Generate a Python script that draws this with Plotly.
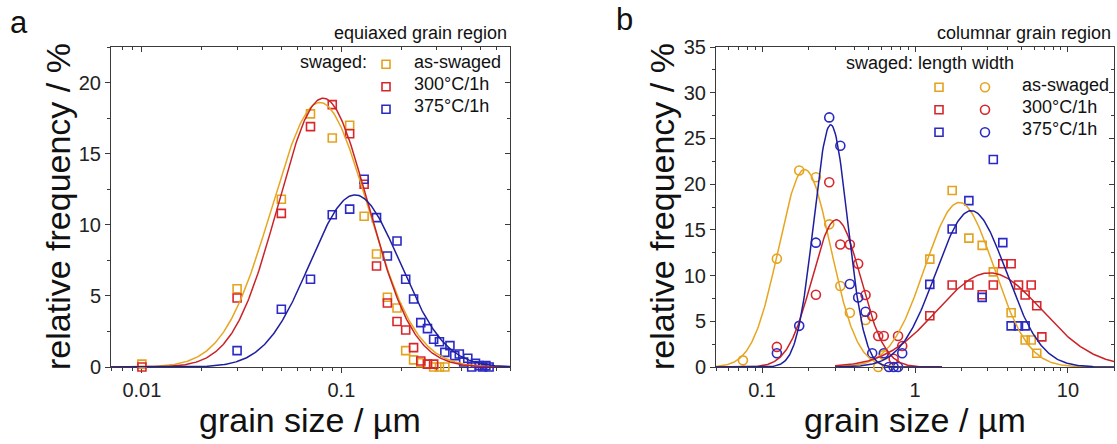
import numpy as np
import plotly.graph_objects as go

W, H = 1117, 444
FONT = "Liberation Sans, Arial, sans-serif"

# ---------------- data: panel a (equiaxed grain region) ----------------
a_as_x = [0.01, 0.03, 0.05, 0.07, 0.09, 0.11, 0.13, 0.15, 0.17, 0.19, 0.21, 0.23, 0.25, 0.27, 0.29, 0.31, 0.33]
a_as_y = [0.2, 5.5, 11.8, 17.8, 16.1, 17.0, 10.6, 7.95, 4.9, 4.15, 1.15, 0.5, 0.3, 0.2, 0.0, 0.0, 0.0]
a_300_x = [0.01, 0.03, 0.05, 0.07, 0.09, 0.11, 0.13, 0.15, 0.17, 0.19, 0.21, 0.23, 0.25, 0.27, 0.29]
a_300_y = [0.0, 4.85, 10.8, 16.9, 18.45, 16.4, 12.85, 7.1, 4.5, 3.2, 2.6, 1.36, 0.42, 0.2, 0.2]
a_375_x = [0.03, 0.05, 0.07, 0.09, 0.11, 0.13, 0.15, 0.17, 0.19, 0.21, 0.23, 0.25, 0.27, 0.29,
           0.31, 0.33, 0.35, 0.37, 0.39, 0.41, 0.43, 0.45, 0.47, 0.49, 0.51, 0.53, 0.55]
a_375_y = [1.15, 4.06, 6.17, 10.7, 11.1, 13.2, 10.5, 7.8, 8.86, 6.17, 4.78, 3.12, 2.7, 1.95,
           1.78, 1.03, 1.5, 0.8, 0.91, 0.35, 0.61, 0.0, 0.26, 0.1, 0.0, 0.1, 0.0]
# fit parameters (log-normal: centre, log10 width, amplitude)
a_fit_centre = [0.078, 0.081, 0.117]
a_fit_width = [0.24, 0.225, 0.225]
a_fit_amp = [18.6, 18.9, 12.1]

# ---------------- data: panel b (columnar grain region) ----------------
# width (circles)
b_w_as_x = [0.075, 0.125, 0.175, 0.225, 0.275, 0.325, 0.375, 0.475, 0.575, 0.625]
b_w_as_y = [0.73, 11.85, 21.5, 20.75, 15.6, 8.86, 5.94, 5.14, 0.0, 1.3]
b_w_300_x = [0.125, 0.225, 0.275, 0.325, 0.375, 0.425, 0.475, 0.525, 0.575, 0.625, 0.725, 0.775, 0.825]
b_w_300_y = [2.2, 7.9, 20.2, 13.4, 13.4, 11.3, 7.88, 5.58, 3.39, 3.39, 0.9, 3.39, 2.3]
b_w_375_x = [0.125, 0.175, 0.225, 0.275, 0.325, 0.375, 0.425, 0.475, 0.525, 0.625, 0.675, 0.725, 0.775, 0.825]
b_w_375_y = [1.5, 4.5, 13.6, 27.3, 24.2, 9.08, 7.6, 6.05, 1.5, 1.5, 0.0, 0.0, 0.0, 1.5]
# length (squares)
b_l_as_x = [1.25, 1.75, 2.25, 2.75, 3.25, 4.25, 5.25, 5.75, 6.25]
b_l_as_y = [11.8, 19.3, 14.1, 13.3, 10.4, 5.94, 2.95, 2.95, 1.5]
b_l_300_x = [1.25, 1.75, 2.25, 2.75, 3.25, 3.75, 4.25, 4.75, 5.25, 5.75, 6.25, 6.75]
b_l_300_y = [5.6, 8.97, 8.97, 7.9, 8.97, 11.3, 11.3, 8.97, 7.88, 8.97, 6.7, 3.3]
b_l_375_x = [1.25, 1.75, 2.25, 2.75, 3.25, 3.75, 4.25, 4.75, 5.25]
b_l_375_y = [9.04, 15.1, 18.2, 7.62, 22.7, 13.6, 4.5, 4.5, 4.5]
b_w_fit_centre = [0.19, 0.306, 0.281]
b_w_fit_width = [0.17, 0.158, 0.11]
b_w_fit_amp = [21.6, 16.1, 26.5]
b_l_fit_centre = [1.95, 3.07, 2.33]
b_l_fit_width = [0.225, 0.34, 0.23]
b_l_fit_amp = [18.0, 10.3, 17.1]

series_names = ["as-swaged", "300°C/1h", "375°C/1h"]
mark_colors = ["#E5A21E", "#D8262C", "#2A2AC4"]
line_colors = ["#E8A520", "#CB2228", "#1E1EA0"]

a_xrange = [0.007, 0.7]
b_xrange = [0.05, 20.0]


def lognormal(x, centre, width, amp):
    return amp * np.exp(-((np.log10(x) - np.log10(centre)) ** 2) / (2 * width ** 2))


def px_x(p):
    return p / W


def px_y(p):
    return 1 - p / H


fig = go.Figure()

# ---- panel a ----
a_sets = [(a_as_x, a_as_y), (a_300_x, a_300_y), (a_375_x, a_375_y)]
for i, (xs, ys) in enumerate(a_sets):
    fig.add_trace(go.Scatter(
        x=xs, y=ys, mode="markers", name=" ", legend="legend",
        marker=dict(symbol="square-open", size=8, color=mark_colors[i], line=dict(width=1.6)),
        xaxis="x", yaxis="y", cliponaxis=False))
xa = np.logspace(np.log10(a_xrange[0]), np.log10(a_xrange[1]), 400)
for i in range(3):
    fig.add_trace(go.Scatter(
        x=xa, y=lognormal(xa, a_fit_centre[i], a_fit_width[i], a_fit_amp[i]),
        mode="lines", line=dict(color=line_colors[i], width=1.5), showlegend=False,
        xaxis="x", yaxis="y", hoverinfo="skip"))

# ---- panel b ----
b_l_sets = [(b_l_as_x, b_l_as_y), (b_l_300_x, b_l_300_y), (b_l_375_x, b_l_375_y)]
b_w_sets = [(b_w_as_x, b_w_as_y), (b_w_300_x, b_w_300_y), (b_w_375_x, b_w_375_y)]
for i, (xs, ys) in enumerate(b_l_sets):
    fig.add_trace(go.Scatter(
        x=xs, y=ys, mode="markers", name=" ", legend="legend2",
        marker=dict(symbol="square-open", size=8, color=mark_colors[i], line=dict(width=1.6)),
        xaxis="x2", yaxis="y2", cliponaxis=False))
for i, (xs, ys) in enumerate(b_w_sets):
    fig.add_trace(go.Scatter(
        x=xs, y=ys, mode="markers", name=" ", legend="legend3",
        marker=dict(symbol="circle-open", size=9, color=mark_colors[i], line=dict(width=1.6)),
        xaxis="x2", yaxis="y2", cliponaxis=False))
xw = np.logspace(np.log10(0.05), np.log10(1.5), 300)
xl = np.logspace(np.log10(0.3), np.log10(b_xrange[1]), 300)
for i in range(3):
    fig.add_trace(go.Scatter(
        x=xw, y=lognormal(xw, b_w_fit_centre[i], b_w_fit_width[i], b_w_fit_amp[i]),
        mode="lines", line=dict(color=line_colors[i], width=1.5), showlegend=False,
        xaxis="x2", yaxis="y2", hoverinfo="skip"))
    fig.add_trace(go.Scatter(
        x=xl, y=lognormal(xl, b_l_fit_centre[i], b_l_fit_width[i], b_l_fit_amp[i]),
        mode="lines", line=dict(color=line_colors[i], width=1.5), showlegend=False,
        xaxis="x2", yaxis="y2", hoverinfo="skip"))

# empty placeholder traces so the mirrored (top / right) frame axes get drawn
for xa_name, ya_name in [("x3", "y"), ("x", "y3"), ("x4", "y2"), ("x2", "y4")]:
    fig.add_trace(go.Scatter(x=[None], y=[None], mode="markers", showlegend=False,
                             xaxis=xa_name, yaxis=ya_name, hoverinfo="skip"))

AX = "#3a3a3a"
tickfont = dict(family=FONT, size=20, color="#222")
ydom = [px_y(367), px_y(47)]
adom = [px_x(111), px_x(510)]
bdom = [px_x(716), px_x(1114)]


def xax(dom, rng, anchor, **kw):
    d = dict(domain=dom, type="log", range=[np.log10(rng[0]), np.log10(rng[1])], anchor=anchor,
             dtick=1, showgrid=False, zeroline=False, showline=True, linecolor=AX, linewidth=1,
             ticks="outside", ticklen=5, tickcolor=AX, tickfont=tickfont, layer="below traces",
             automargin=False,
             minor=dict(ticks="outside", ticklen=3, tickcolor=AX, showgrid=False))
    d.update(kw)
    return d


def yax(rng, anchor, **kw):
    d = dict(domain=ydom, range=rng, anchor=anchor, dtick=5, showgrid=False, zeroline=False,
             showline=True, linecolor=AX, linewidth=1, ticks="outside", ticklen=5, tickcolor=AX,
             tickfont=tickfont, layer="below traces", automargin=False,
             minor=dict(dtick=2.5, ticks="outside", ticklen=3, tickcolor=AX, showgrid=False))
    d.update(kw)
    return d


inside_minor = dict(ticks="inside", ticklen=3, tickcolor=AX, showgrid=False)
inside_minor_y = dict(dtick=2.5, ticks="inside", ticklen=3, tickcolor=AX, showgrid=False)

leg_common = dict(xanchor="left", yanchor="top", font=dict(family=FONT, size=15, color="#111"),
                  bgcolor="rgba(0,0,0,0)", itemwidth=30, tracegroupgap=0)

fig.update_layout(
    width=W, height=H, margin=dict(l=0, r=0, t=0, b=0, autoexpand=False),
    paper_bgcolor="white", plot_bgcolor="white",
    font=dict(family=FONT, color="#111"),
    xaxis=xax(adom, a_xrange, "y"),
    yaxis=yax([0, 22.5], "x"),
    xaxis2=xax(bdom, b_xrange, "y2"),
    yaxis2=yax([0, 35], "x2"),
    xaxis3=xax(adom, a_xrange, "y", overlaying="x", side="top", ticks="inside",
               showticklabels=False, minor=inside_minor),
    yaxis3=yax([0, 22.5], "x", overlaying="y", side="right", ticks="inside",
               showticklabels=False, minor=inside_minor_y),
    xaxis4=xax(bdom, b_xrange, "y2", overlaying="x2", side="top", ticks="inside",
               showticklabels=False, minor=inside_minor),
    yaxis4=yax([0, 35], "x2", overlaying="y2", side="right", ticks="inside",
               showticklabels=False, minor=inside_minor_y),
    legend=dict(x=px_x(366), y=px_y(48), **leg_common),
    legend2=dict(x=px_x(919), y=px_y(71), **leg_common),
    legend3=dict(x=px_x(965), y=px_y(71), **leg_common),
    showlegend=True,
)

ann_font = dict(family=FONT, size=18, color="#111")
title_font = dict(family=FONT, size=34, color="#111")
annotations = [
    dict(text="a", x=px_x(19), y=px_y(22), font=dict(family=FONT, size=31, color="#111")),
    dict(text="b", x=px_x(624), y=px_y(19), font=dict(family=FONT, size=31, color="#111")),
    dict(text="equiaxed grain region", x=px_x(509), y=px_y(33), xanchor="right", font=ann_font),
    dict(text="columnar grain region", x=px_x(1113), y=px_y(33), xanchor="right", font=ann_font),
    dict(text="swaged:", x=px_x(369), y=px_y(62), xanchor="right", font=ann_font),
    dict(text="swaged: length width", x=px_x(844), y=px_y(63), xanchor="left", font=ann_font),
    dict(text="relative frequency / %", x=px_x(58), y=px_y(207), textangle=-90, font=title_font),
    dict(text="relative frequency / %", x=px_x(662), y=px_y(207), textangle=-90, font=title_font),
    dict(text="grain size / µm", x=px_x(310), y=px_y(420), font=title_font),
    dict(text="grain size / µm", x=px_x(915), y=px_y(420), font=title_font),
]
legend_rows_a = [62, 84, 106]
legend_rows_b = [85, 107, 129]
for i, name in enumerate(series_names):
    annotations.append(dict(text=name, x=px_x(412), y=px_y(legend_rows_a[i]), xanchor="left", font=ann_font))
    annotations.append(dict(text=name, x=px_x(1020), y=px_y(legend_rows_b[i]), xanchor="left", font=ann_font))
for a in annotations:
    a.update(xref="paper", yref="paper", showarrow=False)
    a.setdefault("xanchor", "center")
    a.setdefault("yanchor", "middle")
fig.update_layout(annotations=annotations)

fig.write_html("out.html")
